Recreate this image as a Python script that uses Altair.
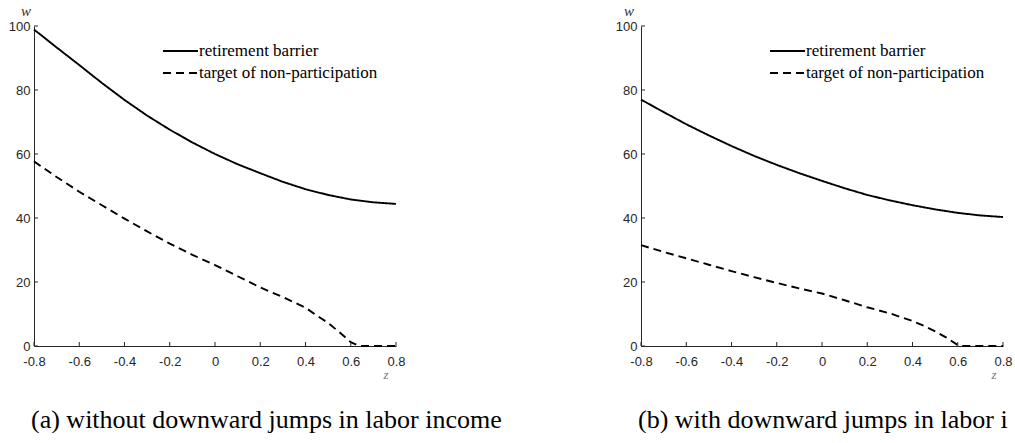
import altair as alt
import pandas as pd

# ---- data -----------------------------------------------------------------
LEGEND = ["retirement barrier", "target of non-participation"]
X_TICKS = [-0.8, -0.6, -0.4, -0.2, 0, 0.2, 0.4, 0.6, 0.8]
Y_TICKS = [0, 20, 40, 60, 80, 100]

GRID = [-0.8, -0.7, -0.6, -0.5, -0.4, -0.3, -0.2, -0.1, 0.0,
        0.1, 0.2, 0.3, 0.4, 0.5, 0.6, 0.7, 0.8]

# (a) without downward jumps
a_barrier = [98.9, 93.3, 87.8, 82.2, 76.9, 72.0, 67.6, 63.6, 60.0,
             56.8, 54.0, 51.3, 49.0, 47.2, 45.8, 44.9, 44.4]
a_target_z = [-0.8, -0.7, -0.6, -0.5, -0.4, -0.3, -0.2, -0.1, 0.0, 0.1,
              0.2, 0.3, 0.4, 0.45, 0.5, 0.55, 0.6, 0.64, 0.7, 0.8]
a_target = [57.7, 52.8, 48.2, 44.0, 39.8, 35.8, 32.0, 28.5, 25.3, 21.8,
            18.3, 15.3, 12.0, 9.5, 7.2, 4.3, 1.2, 0.0, 0.0, 0.0]

# (b) with downward jumps
b_barrier = [77.0, 73.1, 69.3, 65.8, 62.5, 59.4, 56.6, 54.0, 51.6,
             49.3, 47.2, 45.5, 44.0, 42.7, 41.6, 40.8, 40.3]
b_target_z = [-0.8, -0.7, -0.6, -0.5, -0.4, -0.3, -0.2, -0.1, 0.0, 0.1,
              0.2, 0.3, 0.4, 0.45, 0.5, 0.55, 0.6, 0.615, 0.7, 0.8]
b_target = [31.5, 29.4, 27.4, 25.4, 23.4, 21.5, 19.7, 18.0, 16.4, 14.3,
            12.1, 10.2, 7.8, 6.3, 4.6, 2.6, 0.3, 0.0, 0.0, 0.0]

CAPTIONS = ["(a) without downward jumps in labor income",
            "(b) with downward jumps in labor income"]

# ---- styling ----------------------------------------------------------------
W, H = 362, 320
AXIS_COLOR = "#262626"
DASH = [8, 5]
SERIF = "Liberation Serif"
SANS = "Liberation Sans"

x_axis = alt.Axis(values=X_TICKS, labelExpr="'' + datum.value", ticks=False,
                  grid=False, title=None, domainColor=AXIS_COLOR, domainWidth=1,
                  labelFont=SANS, labelFontSize=13, labelColor=AXIS_COLOR,
                  labelPadding=9, labelFlush=False)
y_axis = alt.Axis(values=Y_TICKS, ticks=False, grid=False, title=None,
                  domainColor=AXIS_COLOR, domainWidth=1, labelFont=SANS,
                  labelFontSize=13, labelColor=AXIS_COLOR, labelPadding=4)
XS = alt.Scale(domain=[-0.8, 0.8], nice=False, zero=False)
YS = alt.Scale(domain=[0, 100], nice=False)


def panel(barrier, tz, target, caption, w_dx, z_dx, cap_limit):
    curves = pd.concat([
        pd.DataFrame({"z": GRID, "w": barrier, "series": LEGEND[0]}),
        pd.DataFrame({"z": tz, "w": target, "series": LEGEND[1]}),
    ], ignore_index=True)
    curves["i"] = range(len(curves))

    X = alt.X("z:Q", scale=XS, axis=x_axis)
    Y = alt.Y("w:Q", scale=YS, axis=y_axis)

    lines = alt.Chart(curves).mark_line(color="black", strokeWidth=1.9).encode(
        x=X, y=Y,
        strokeDash=alt.StrokeDash("series:N", legend=None,
                                  scale=alt.Scale(domain=LEGEND, range=[[1, 0], DASH])),
        order="i:Q",
    )

    # inward tick marks
    xt = alt.Chart(pd.DataFrame({"z": X_TICKS})).mark_rule(
        color=AXIS_COLOR, strokeWidth=1).encode(x=X, y=alt.value(H), y2=alt.value(H - 4))
    yt = alt.Chart(pd.DataFrame({"w": Y_TICKS})).mark_rule(
        color=AXIS_COLOR, strokeWidth=1).encode(y=Y, x=alt.value(0), x2=alt.value(4))

    layers = [lines, xt, yt]

    # legend box
    for k, name in enumerate(LEGEND):
        ly = 25 + 22 * k
        d = pd.DataFrame({"t": [name]})
        rule = alt.Chart(d).mark_rule(color="black", strokeWidth=1.9,
                                      strokeDash=[1, 0] if k == 0 else DASH)
        layers.append(rule.encode(x=alt.value(129), x2=alt.value(164), y=alt.value(ly)))
        layers.append(alt.Chart(d).mark_text(align="left", baseline="middle", font=SERIF,
                                             fontSize=17, color="black").encode(
            text="t:N", x=alt.value(165), y=alt.value(ly)))

    # axis symbols and caption
    sym = pd.DataFrame({"t": ["w", "z"]})
    layers.append(alt.Chart(sym.iloc[[0]]).mark_text(
        font=SERIF, fontStyle="italic", fontSize=15, color="#333333",
        baseline="middle", align="center").encode(
        text="t:N", x=alt.value(w_dx), y=alt.value(-15)))
    layers.append(alt.Chart(sym.iloc[[1]]).mark_text(
        font=SERIF, fontStyle="italic", fontSize=13, color="#777777",
        baseline="middle", align="center").encode(
        text="t:N", x=alt.value(z_dx), y=alt.value(H + 29)))
    layers.append(alt.Chart(pd.DataFrame({"t": [caption]})).mark_text(
        font=SERIF, fontSize=26, color="black", align="left", limit=cap_limit,
        ellipsis="\u200b", baseline="alphabetic").encode(
        text="t:N", x=alt.value(-3), y=alt.value(402)))

    return alt.layer(*layers).properties(width=W, height=H)


left = panel(a_barrier, a_target_z, a_target, CAPTIONS[0], -8, 352, 600)
right = panel(b_barrier, b_target_z, b_target, CAPTIONS[1], -12, 353, 376)

chart = alt.hconcat(left, right, spacing=245, bounds="flush").configure_view(
    stroke=None).properties(padding={"left": 8, "top": 4, "right": 0, "bottom": 0},
                            background="white")

chart.save("out.html", embed_options={"renderer": "svg", "actions": False})
